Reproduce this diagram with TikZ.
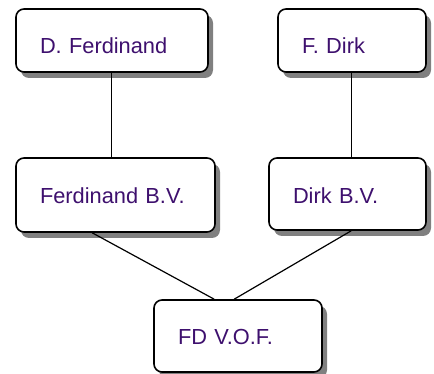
\documentclass[tikz,border=0pt]{standalone}
\usepackage{fontspec}
\setmainfont{Liberation Sans}
\usetikzlibrary{shadows}
\definecolor{txtpurple}{RGB}{62,16,110}
\definecolor{shadowgray}{RGB}{128,128,128}
\tikzset{
  boxnode/.style n args={4}{draw=black, line width=1.6pt, rounded corners=8pt, fill=white,
    minimum width=#1pt, minimum height=#2pt, text width=#3pt, inner xsep=24pt, inner ysep=0pt,
    text height=#4pt, text depth=4pt,
    align=left, text=txtpurple, font=\fontsize{21.8}{26}\selectfont,
    drop shadow={shadow xshift=5pt, shadow yshift=-6pt, fill=shadowgray, opacity=1}},
  conn/.style={draw=black, line width=1.2pt}
}
\begin{document}
\begin{tikzpicture}[x=1pt, y=-1pt]
\useasboundingbox (0,0) rectangle (434,374);
\node[boxnode={192}{63}{144}{30}] (b1) at (112,40.5) {D. Ferdinand};
\node[boxnode={148}{63}{100}{30}] (b2) at (352,40.5) {F. Dirk};
\node[boxnode={199}{74}{151}{22}] (b3) at (115.5,195) {Ferdinand B.V.};
\node[boxnode={157}{72}{109}{24}] (b4) at (347.5,194) {Dirk B.V.};
\node[boxnode={168}{72}{120}{20}] (b5) at (238,336) {FD V.O.F.};
\draw[conn] ([xshift=96pt]b1.south west) -- ([xshift=96pt]b3.north west);
\draw[conn] ([xshift=74pt]b2.south west) -- ([xshift=83pt]b4.north west);
\draw[conn] ([xshift=77pt]b3.south west) -- ([xshift=61pt]b5.north west);
\draw[conn] ([xshift=83pt]b4.south west) -- ([xshift=81pt]b5.north west);
\end{tikzpicture}
\end{document}
